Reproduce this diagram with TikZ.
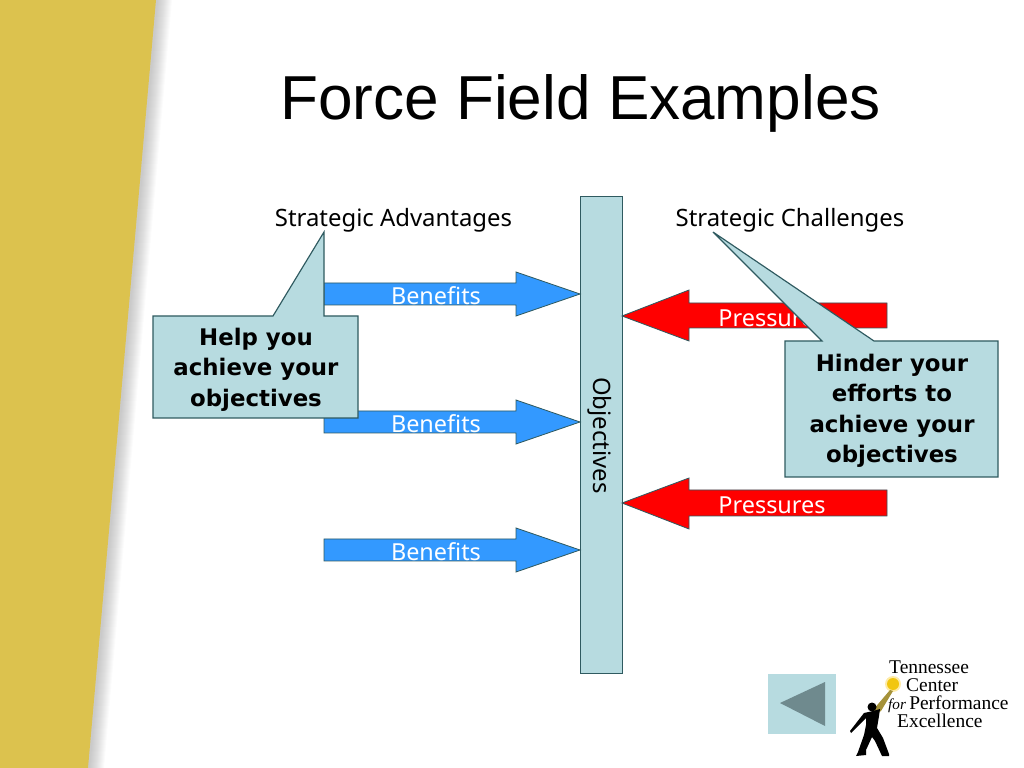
\documentclass[tikz,border=0pt]{standalone}
\usepackage{fontspec}
\setmainfont{Liberation Sans}
\newfontfamily\bodyfont{Noto Sans}
\newfontfamily\boldfont{DejaVu Sans}
\newfontfamily\logofont{Liberation Serif}
\usetikzlibrary{positioning}
\colorlet{background}{white}
\definecolor{sandColor}{HTML}{DCC24E}
\definecolor{paleColor}{HTML}{B7DBE0}
\definecolor{penColor}{HTML}{2F5A60}
\definecolor{blueColor}{HTML}{3399FF}
\definecolor{navColor}{HTML}{6F8A8E}
\tikzset{
	benefit/.style={fill=blueColor, draw=penColor, line width=.7pt},
	pressure/.style={fill=red, draw=penColor, line width=.7pt},
	callout/.style={fill=paleColor, draw=penColor, line width=1pt},
	plain/.style={font=\bodyfont\fontsize{20.4}{24}\selectfont},
	arrowtext/.style={font=\bodyfont\fontsize{20}{24}\selectfont, text=white},
	calloutText/.style={font=\boldfont\bfseries\fontsize{19.5}{26}\selectfont, align=center},
	logotext/.style={font=\logofont\fontsize{16.6}{15.3}\selectfont, anchor=west, inner sep=0pt, align=left}
}
\begin{document}
\begin{tikzpicture}[x=0.03cm,y=-0.03cm]
	\useasboundingbox (0,0) rectangle (1024,768);
	% side band and its soft shadow
	\foreach \d in {1,...,15}
		\fill[black, opacity=.017] (0,0) -- (157+\d,0) -- (89+\d,768) -- (0,768) -- cycle;
	\fill[sandColor] (0,0) -- (156,0) -- (88,768) -- (0,768) -- cycle;

	\node (title) at (580.5,103) {\fontsize{53}{60}\selectfont Force Field Examples};
	\node [plain] (advantages) at (393.5,220) {Strategic Advantages};
	\node [plain] (challenges) at (790,220) {Strategic Challenges};

	% centre bar
	\draw [callout, line width=.7pt] (580,196) rectangle (622,673);
	\node [plain, rotate=-90] (objectives) at (600,435.5) {Objectives};

	% left arrows
	\draw [benefit] (324,283) -- (516,283) -- (516,272) -- (580,294) -- (516,316) -- (516,305) -- (324,305) -- cycle;
	\draw [benefit] (324,411) -- (516,411) -- (516,400) -- (580,422) -- (516,444) -- (516,433) -- (324,433) -- cycle;
	\draw [benefit] (324,539) -- (516,539) -- (516,528) -- (580,550) -- (516,572) -- (516,561) -- (324,561) -- cycle;
	\node [arrowtext] (benefitsA) at (436,296) {Benefits};
	\node [arrowtext] (benefitsB) at (436,424) {Benefits};
	\node [arrowtext] (benefitsC) at (436,552) {Benefits};

	% right arrows
	\draw [pressure] (887,303) -- (689,303) -- (689,290) -- (622,316) -- (689,341) -- (689,328) -- (887,328) -- cycle;
	\draw [pressure] (887,490) -- (689,490) -- (689,478) -- (622,503) -- (689,529) -- (689,516) -- (887,516) -- cycle;
	\node [arrowtext] (pressuresA) at (772,318) {Pressures};
	\node [arrowtext] (pressuresB) at (772,505) {Pressures};

	% callouts
	\draw [callout] (153,316) -- (273,316) -- (324,232) -- (324,316) -- (358,316) -- (358,418) -- (153,418) -- cycle;
	\node [calloutText] (help) at (256,369.5) {Help you\\achieve your\\objectives};
	\draw [callout] (785,341) -- (822,341) -- (713,232) -- (874,341) -- (998,341) -- (998,477) -- (785,477) -- cycle;
	\node [calloutText] (hinder) at (892,411) {Hinder your\\efforts to\\achieve your\\objectives};

	% back button
	\fill [paleColor] (768,674) rectangle (836,734);
	\fill [navColor] (780,703) -- (825,682) -- (825,726) -- cycle;

	% logo
	\fill [yellow!60!orange, opacity=.35] (893,684) circle [radius=8];
	\fill [yellow!65!orange!95!black] (893,684) circle [radius=6];
	\fill [sandColor!75!black] (890,690) -- (893,691) -- (881,711) -- (871,716) -- (873,710) -- cycle;
	\fill [black] (873,711) -- (880,709) -- (879,716) -- (877,728) -- (883,738) -- (889,754) -- (889,756) -- (882,756) -- (875,741) -- (872,737) -- (866,750) -- (866,755) -- (856,756) -- (858,752) -- (864,735) -- (866,725) -- (866,718) -- (851,733) -- (850,731) -- (864,713) -- cycle;
	\fill [black] (872,707) circle [radius=4.5];
	\node [logotext] (logoname) at (888,694) {\hspace{0.03cm}Tennessee\\\hspace{0.54cm}Center\\{\fontsize{13}{13}\selectfont\itshape for}\,Performance\\\hspace{0.27cm}Excellence};
\end{tikzpicture}
\end{document}
